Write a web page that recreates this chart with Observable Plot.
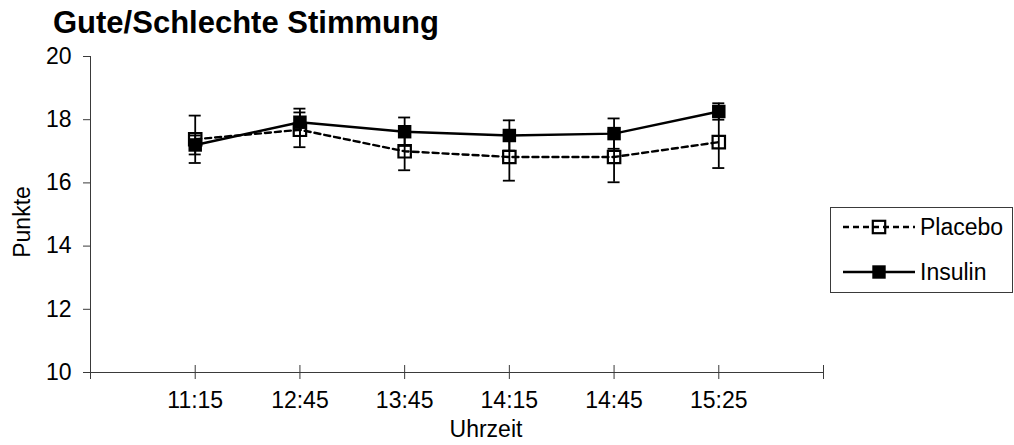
<!DOCTYPE html>
<html>
<head>
<meta charset="utf-8">
<script src="https://cdn.jsdelivr.net/npm/d3@7"></script>
<script src="https://cdn.jsdelivr.net/npm/@observablehq/plot@0.6"></script>
<style>
  html, body { margin: 0; padding: 0; background: #fff; }
</style>
</head>
<body>
<div id="chart"></div>
<script>
// ---- data ----
const times = ["11:15", "12:45", "13:45", "14:15", "14:45", "15:25"];
const placebo    = [17.38, 17.68, 17.0, 16.82, 16.82, 17.29];
const placeboErr = [0.75, 0.55, 0.6, 0.75, 0.8, 0.82];
const insulin    = [17.2, 17.92, 17.62, 17.5, 17.56, 18.26];
const insulinErr = [0.3, 0.43, 0.45, 0.48, 0.48, 0.26];
const yTicks = [10, 12, 14, 16, 18, 20];
const xSlots = [0, 1, 2, 3, 4, 5, 6, 7]; // category slots; 1..6 carry the times
const seriesNames = ["Placebo", "Insulin"];
const titleText = "Gute/Schlechte Stimmung";
const xLabel = "Uhrzeit";
const yLabel = "Punkte";

const toRows = (vals, errs, name) => vals.map((v, k) => ({
  slot: k + 1, time: times[k], value: v, err: errs[k], series: name
}));
const placeboRows = toRows(placebo, placeboErr, seriesNames[0]);
const insulinRows = toRows(insulin, insulinErr, seriesNames[1]);

const axisColor = "#3a3a3a";
const font = "'Liberation Sans', Arial, Helvetica, sans-serif";

const errorMarks = rows => [
  Plot.ruleX(rows, {x: "slot", y1: d => d.value - d.err, y2: d => d.value + d.err, stroke: "#000", strokeWidth: 1.8}),
  Plot.ruleY(rows, {y: d => d.value + d.err, x1: "slot", x2: "slot", insetLeft: -6, insetRight: -6, stroke: "#000", strokeWidth: 1.8}),
  Plot.ruleY(rows, {y: d => d.value - d.err, x1: "slot", x2: "slot", insetLeft: -6, insetRight: -6, stroke: "#000", strokeWidth: 1.8})
];

const chart = Plot.plot({
  width: 1014,
  height: 445,
  marginLeft: 90,
  marginRight: 191,
  marginTop: 56,
  marginBottom: 73,
  style: {fontFamily: font, fontSize: "23px", color: "#000", background: "#fff", overflow: "visible"},
  x: {domain: [xSlots[0], xSlots[xSlots.length - 1]], axis: null},
  y: {domain: [yTicks[0], yTicks[yTicks.length - 1]], axis: null},
  marks: [
    Plot.axisY(yTicks, {tickSize: 7, tickPadding: 12, label: null, stroke: axisColor, fill: "#000"}),
    Plot.axisX(xSlots.slice(1, 7), {tickSize: 0, tickPadding: 19, tickFormat: i => times[i - 1], label: null, fill: "#000"}),
    Plot.ruleX([xSlots[0]], {stroke: axisColor, strokeWidth: 1}),
    Plot.ruleY([yTicks[0]], {stroke: axisColor, strokeWidth: 1}),
    Plot.ruleX(xSlots, {x: d => d, y1: yTicks[0], y2: yTicks[0], insetTop: -7, insetBottom: -7, stroke: axisColor, strokeWidth: 1}),
    // Placebo
    ...errorMarks(placeboRows),
    Plot.line(placeboRows, {x: "slot", y: "value", stroke: "#000", strokeWidth: 2.4, strokeDasharray: "6,4"}),
    Plot.dot(placeboRows, {x: "slot", y: "value", symbol: "square", r: 7, fill: "none", stroke: "#000", strokeWidth: 2.2}),
    // Insulin
    ...errorMarks(insulinRows),
    Plot.line(insulinRows, {x: "slot", y: "value", stroke: "#000", strokeWidth: 2.4}),
    Plot.dot(insulinRows, {x: "slot", y: "value", symbol: "square", r: 7.6, fill: "#000", stroke: "none"})
  ]
});

document.getElementById("chart").appendChild(chart);

// ---- title, axis titles, legend ----
const svg = d3.select(chart);
svg.append("text")
  .attr("x", 53).attr("y", 33)
  .attr("text-anchor", "start")
  .attr("font-family", font).attr("font-size", 31).attr("font-weight", "bold")
  .attr("fill", "#000")
  .text(titleText);

svg.append("text")
  .attr("x", 486).attr("y", 437)
  .attr("text-anchor", "middle")
  .attr("font-family", font).attr("font-size", 23).attr("fill", "#000")
  .text(xLabel);

svg.append("text")
  .attr("transform", "translate(30,222) rotate(-90)")
  .attr("text-anchor", "middle")
  .attr("font-family", font).attr("font-size", 23).attr("fill", "#000")
  .text(yLabel);

const lg = svg.append("g");
lg.append("rect")
  .attr("x", 830.5).attr("y", 207.5).attr("width", 182).attr("height", 85)
  .attr("fill", "#fff").attr("stroke", axisColor).attr("stroke-width", 1);

const legendItems = [
  {name: seriesNames[0], y: 227, dash: "6,4", filled: false},
  {name: seriesNames[1], y: 272, dash: null, filled: true}
];
legendItems.forEach(it => {
  lg.append("line")
    .attr("x1", 843).attr("x2", 915).attr("y1", it.y).attr("y2", it.y)
    .attr("stroke", "#000").attr("stroke-width", 2.4)
    .attr("stroke-dasharray", it.dash);
  if (it.filled) {
    lg.append("rect").attr("x", 872.3).attr("y", it.y - 6.7).attr("width", 13.4).attr("height", 13.4).attr("fill", "#000");
  } else {
    lg.append("rect").attr("x", 872.8).attr("y", it.y - 6.2).attr("width", 12.4).attr("height", 12.4)
      .attr("fill", "none").attr("stroke", "#000").attr("stroke-width", 2.2);
  }
  lg.append("text")
    .attr("x", 920).attr("y", it.y + 7.5)
    .attr("text-anchor", "start")
    .attr("font-family", font).attr("font-size", 23).attr("fill", "#000")
    .text(it.name);
});
</script>
</body>
</html>
